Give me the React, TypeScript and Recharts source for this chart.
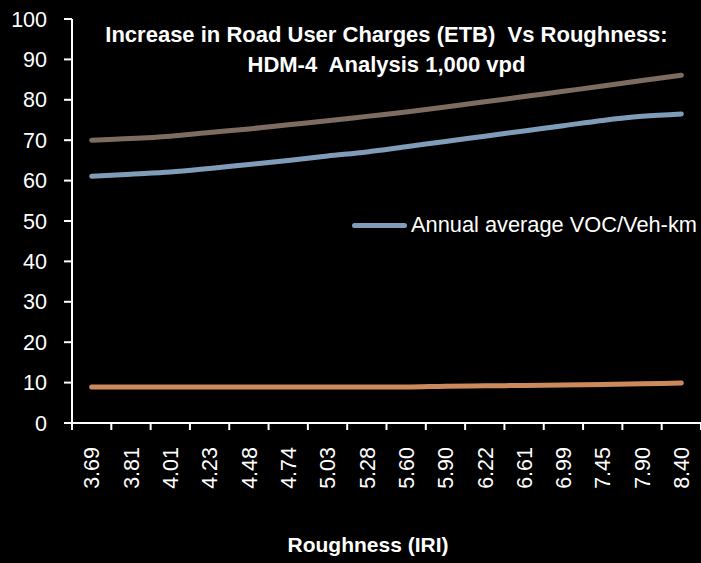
import { LineChart, Line, XAxis, YAxis, Legend } from 'recharts'

const roughness = ['3.69', '3.81', '4.01', '4.23', '4.48', '4.74', '5.03', '5.28', '5.60', '5.90', '6.22', '6.61', '6.99', '7.45', '7.90', '8.40']
const upperSeries = [70.0, 70.4, 71.0, 71.9, 72.8, 73.8, 74.8, 75.9, 77.0, 78.2, 79.5, 80.8, 82.1, 83.4, 84.8, 86.1]
const vocSeries = [61.1, 61.6, 62.1, 63.0, 64.0, 65.0, 66.1, 67.1, 68.4, 69.7, 71.0, 72.3, 73.6, 74.9, 75.9, 76.5]
const lowerSeries = [8.9, 8.9, 8.9, 8.9, 8.9, 8.9, 8.9, 8.9, 8.9, 9.1, 9.2, 9.3, 9.4, 9.5, 9.7, 9.9]
const yTicks = [0, 10, 20, 30, 40, 50, 60, 70, 80, 90, 100]

const data = roughness.map((r, i) => ({
  r,
  upper: upperSeries[i],
  voc: vocSeries[i],
  lower: lowerSeries[i],
}))

const W = 701
const H = 563
const LEFT = 72
const STEP = (W - LEFT) / roughness.length
const FONT = '"Liberation Sans", Arial, sans-serif'

const XTick = (props: any) => {
  const { x, y, payload, index } = props
  const last = index === roughness.length - 1
  return (
    <g>
      <line x1={x - STEP / 2} y1={y} x2={x - STEP / 2} y2={y + 7} stroke="#fff" strokeWidth={2} />
      {last && <line x1={x + STEP / 2} y1={y} x2={x + STEP / 2} y2={y + 7} stroke="#fff" strokeWidth={2} />}
      <text
        transform={`translate(${x}, ${y + 24}) rotate(-90)`}
        textAnchor="end"
        dy="0.36em"
        fill="#fff"
        fontSize={21.5}
        fontFamily={FONT}
      >
        {payload.value}
      </text>
    </g>
  )
}

// only the VOC series is named in the legend
const renderLegend = (props: any) => {
  const items = (props.payload || []).filter((p: any) => p.type !== 'none' && p.dataKey === 'voc')
  return (
    <div>
      {items.map((p: any) => (
        <div key={p.value} style={{ display: 'flex', alignItems: 'center', color: '#fff', fontFamily: FONT, fontSize: 21.8, whiteSpace: 'nowrap' }}>
          <span style={{ display: 'inline-block', width: 55, height: 5, borderRadius: 3, background: p.color, marginRight: 4 }} />
          <span>{p.value}</span>
        </div>
      ))}
    </div>
  )
}

export default function App() {
  return (
    <div style={{ position: 'absolute', left: 0, top: 0, width: W, height: H, background: '#000', overflow: 'hidden' }}>
      <LineChart width={W} height={H} data={data} margin={{ top: 19, right: 0, bottom: 0, left: 0 }}>
        <XAxis
          dataKey="r"
          interval={0}
          tickLine={false}
          tickSize={0}
          tickMargin={0}
          tick={<XTick />}
          axisLine={{ stroke: '#fff', strokeWidth: 2 }}
          padding={{ left: STEP / 2, right: STEP / 2 }}
          height={140}
        />
        <YAxis
          width={LEFT}
          domain={[0, 100]}
          ticks={yTicks}
          interval={0}
          tickSize={8}
          tickMargin={17}
          axisLine={{ stroke: '#fff', strokeWidth: 2 }}
          tickLine={{ stroke: '#fff', strokeWidth: 2 }}
          tick={{ fill: '#fff', fontSize: 21.5, fontFamily: FONT }}
        />
        <Legend
          layout="horizontal"
          verticalAlign="middle"
          align="center"
          content={renderLegend}
          wrapperStyle={{ position: 'absolute', left: 352, top: 212, width: 'auto' }}
        />
        <Line type="monotone" dataKey="upper" stroke="#7f6c60" strokeWidth={5} strokeLinecap="round" dot={false} legendType="none" isAnimationActive={false} />
        <Line type="monotone" dataKey="voc" name="Annual average VOC/Veh-km" stroke="#7f9db9" strokeWidth={5} strokeLinecap="round" dot={false} isAnimationActive={false} />
        <Line type="monotone" dataKey="lower" stroke="#cc8a5c" strokeWidth={5} strokeLinecap="round" dot={false} legendType="none" isAnimationActive={false} />
      </LineChart>
      <div
        style={{
          position: 'absolute', left: LEFT, top: 20, width: W - LEFT, textAlign: 'center',
          color: '#fff', fontFamily: FONT, fontWeight: 'bold', fontSize: 22, lineHeight: '30px', whiteSpace: 'pre',
        }}
      >
        {'Increase in Road User Charges (ETB)  Vs Roughness:\nHDM-4  Analysis 1,000 vpd'}
      </div>
      <div
        style={{
          position: 'absolute', left: 268, top: 534, width: 200, textAlign: 'center',
          color: '#fff', fontFamily: FONT, fontWeight: 'bold', fontSize: 21, lineHeight: '22px',
        }}
      >
        Roughness (IRI)
      </div>
    </div>
  )
}
